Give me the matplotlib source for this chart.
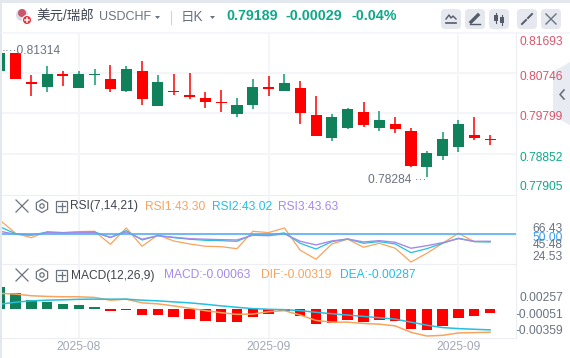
import numpy as np
import matplotlib
matplotlib.use('Agg')
import matplotlib.pyplot as plt
from matplotlib.patches import FancyBboxPatch, Rectangle, RegularPolygon, Polygon, Circle

plt.rcParams['font.family'] = ['Liberation Sans', 'Noto Sans CJK SC', 'DejaVu Sans']

# daily candles, first one is cut off by the left edge
opens = [.80869, .81314, .80602, .80480, .80796, .80456, .80772, .80675, .80383, .80869, .80018,
         .80383, .80286, .80213, .80115, .79824, .80042, .80480, .80383, .80456, .79799, .79240,
         .79483, .79872, .79483, .79580, .79410, .78535, .78802, .79021, .79313, .79216]
closes = [.81307, .80675, .80553, .80796, .80748, .80796, .80796, .80431, .80918, .80188, .80602,
          .80359, .80237, .80115, .80091, .80042, .80480, .80431, .80577, .79848, .79288, .79751,
          .79945, .79556, .79678, .79459, .78559, .78875, .79216, .79580, .79240, .79189]
highs = [.81307, .81314, .80772, .80991, .80869, .80869, .80918, .81015, .80991, .81112, .80772,
         .80796, .80821, .80359, .80407, .80213, .80675, .80748, .80796, .80626, .80261, .79824,
         .79969, .80115, .79896, .79751, .79483, .78924, .79386, .79678, .79751, .79313]
lows = [.80869, .80675, .80261, .80359, .80504, .80456, .80529, .80359, .80359, .80042, .80018,
        .80286, .80188, .79969, .79872, .79751, .79945, .80261, .80383, .79580, .79288, .79167,
        .79459, .79507, .79410, .79361, .78535, .78284, .78705, .78899, .79191, .79070]

rsi1 = [63.0, 50.9, 46.9, 52.4, 51.5, 52.4, 52.7, 40.9, 55.7, 39.1, 49.4, 43.9, 41.2, 39.1, 38.7, 36.9,
        52.7, 51.5, 55.7, 35.5, 27.3, 41.2, 45.5, 38.2, 41.8, 37.3, 24.8, 32.7, 41.8, 50.9, 43.3, 43.30]
rsi2 = [56.9, 50.5, 49.4, 51.8, 51.5, 51.8, 52.1, 46.9, 53.3, 44.8, 48.7, 46.9, 45.5, 44.5, 44.2, 43.6,
        49.6, 49.4, 51.2, 41.8, 36.6, 43.3, 45.7, 41.8, 43.3, 41.2, 33.3, 36.9, 41.8, 46.4, 43.3, 43.02]
rsi3 = [52.7, 50.0, 49.1, 51.5, 51.2, 51.5, 51.5, 47.3, 52.1, 45.5, 48.7, 47.3, 46.0, 45.5, 45.1, 44.8,
        49.1, 48.7, 50.3, 43.6, 40.3, 43.9, 45.7, 43.0, 44.2, 42.7, 37.3, 39.6, 42.4, 46.0, 43.6, 43.63]

macd = [.00288, .00206, .00123, .00096, .00069, .00055, .00027, -.00027, -.00014, -.00082, -.00082,
        -.0011, -.00137, -.00165, -.00178, -.00178, -.0011, -.00069, -.00027, -.00096, -.00206, -.00192,
        -.00151, -.00178, -.00151, -.00165, -.00274, -.00288, -.00233, -.00123, -.00096, -.00063]
dif = [.00206, .00197, .00174, .00165, .0016, .0016, .00151, .00114, .00128, .00078, .00064, .00037,
       .00005, -.00027, -.00055, -.00078, -.00073, -.00041, -.00027, -.00087, -.0016, -.00183, -.00183,
       -.00201, -.0021, -.00233, -.0032, -.0037, -.00361, -.00329, -.00324, -.00319]
dea = [.00059, .00087, .00105, .00114, .00119, .00126, .00128, .00128, .00128, .00114, .00105, .00091,
       .00078, .00059, .00037, .00018, 0, -.00009, -.00014, -.00027, -.0005, -.00069, -.00087, -.00105,
       -.00123, -.00142, -.00183, -.00224, -.00256, -.0027, -.00279, -.00287]

# the page clamps/shifts its axis labels, so tick positions sit where the labels are drawn
price_ticks = [.81599, .80755, .79782, .78785, .78080]
price_labels = ['0.81693', '0.80746', '0.79799', '0.78852', '0.77905']
rsi_ticks = [56.1, 48.2, 41.8, 30.3]
rsi_labels = ['66.43', '50.00', '45.48', '24.53']
macd_ticks = [.0016, -.00064, -.00283]
macd_labels = ['0.00257', '-0.00051', '-0.00359']
date_ticks = [5, 17, 29]
date_labels = ['2025-08', '2025-09', '2025-09']

RED = '#ff0000'
GREEN = '#10815a'
WICK_GREEN = '#0f9a72'
UP_TXT = '#10a88a'
DOWN_TXT = '#d9566c'
GRAY = '#6b7280'
GRID = '#f4f5f9'
ORANGE = '#f7a45e'
CYAN = '#25bfdf'
PURPLE = '#a68ae6'

W, H = 570, 358
fig = plt.figure(figsize=(W / 100, H / 100), dpi=100, facecolor='#e3e8ef')


def px(v):
    return v * 0.72


def page_layer(z):
    a = fig.add_axes([0, 0, 1, 1], zorder=z)
    a.set_xlim(0, W)
    a.set_ylim(H, 0)
    a.axis('off')
    return a


# card and collapse tab sit under the panels, header and icons above them
card = page_layer(0)
card.add_patch(Rectangle((2, 3), W, H, fc='white', ec='none'))
card.plot([2, W], [33, 33], color=GRID, lw=1.2)
card.add_patch(Polygon([[553, 72], [570, 62], [570, 125], [553, 116]], fc='#e9ebf2', ec='none'))
card.plot([564, 560, 564], [90, 94.5, 99], color=GRAY, lw=1.2)

bg = page_layer(5)


def txt(x, y, s, color, size=13, weight='normal', ha='left'):
    bg.text(x, y, s, color=color, fontsize=px(size), fontweight=weight, ha=ha, va='center')


# flag
bg.add_patch(Circle((22, 15), 6, fc='#d9dce6', ec='none'))
bg.add_patch(Circle((22, 13), 4, fc='#c9566a', ec='none'))
bg.add_patch(Circle((27, 20), 4.6, fc='#e8303a', ec='white', lw=0.8))
bg.plot([24.8, 29.2], [20, 20], color='white', lw=1.1)
bg.plot([27, 27], [17.8, 22.2], color='white', lw=1.1)

txt(36, 16.5, '美元/瑞郎', '#3f4450', 13.5)
txt(99, 17.5, 'USDCHF', GRAY, 12.5)
bg.add_patch(Polygon([[155, 16], [160, 16], [157.5, 19]], fc=GRAY, ec='none'))
bg.plot([171, 171], [11, 24], color='#cfd3dc', lw=0.8)
txt(181, 16.5, '日K', GRAY, 13.5)
bg.add_patch(Polygon([[210, 16], [215, 16], [212.5, 19]], fc=GRAY, ec='none'))
txt(226, 16.5, '0.79189', UP_TXT, 14.2, 'bold')
txt(286, 16.5, '-0.00029', UP_TXT, 14.2, 'bold')
txt(352, 16.5, '-0.04%', UP_TXT, 14.2, 'bold')

# toolbar buttons
for bx in [441, 465, 489, 517, 541]:
    bg.add_patch(FancyBboxPatch((bx + 2, 11), 16, 16, boxstyle='round,pad=2,rounding_size=4',
                                fc='#e6e8f0', ec='none'))
ICON = '#555b68'
bg.plot([446, 449, 451, 453, 456], [19, 15, 18, 16, 19], color=ICON, lw=1)
bg.plot([446, 456], [23, 23], color=ICON, lw=1.2)
bg.plot([471, 478], [22, 15], color=ICON, lw=2.4)
bg.plot([470, 480], [24, 24], color=ICON, lw=1)
bg.add_patch(Rectangle((494, 15), 3.5, 6, fc=ICON, ec='none'))
bg.add_patch(Rectangle((500, 17), 3.5, 6, fc=ICON, ec='none'))
bg.plot([495.7, 495.7], [13, 23], color=ICON, lw=0.8)
bg.plot([501.7, 501.7], [15, 25], color=ICON, lw=0.8)
bg.plot([522, 526], [24, 20], color=ICON, lw=1.4)
bg.plot([528, 532], [18, 14], color=ICON, lw=1.4)
bg.plot([546, 556], [14, 24], color=GRAY, lw=1)
bg.plot([546, 556], [24, 14], color=GRAY, lw=1)


def panel_icons(y):
    bg.plot([16, 28], [y - 6, y + 6], color=GRAY, lw=0.9)
    bg.plot([16, 28], [y + 6, y - 6], color=GRAY, lw=0.9)
    bg.add_patch(RegularPolygon((42, y), 6, radius=6.5, fc='none', ec=GRAY, lw=0.9))
    bg.add_patch(Circle((42, y), 2.2, fc='none', ec=GRAY, lw=0.9))
    bg.add_patch(Rectangle((56, y - 5.5), 11, 11, fc='none', ec=GRAY, lw=0.9))
    bg.plot([58, 65], [y, y], color=GRAY, lw=0.9)
    bg.plot([61.5, 61.5], [y - 3.5, y + 3.5], color=GRAY, lw=0.9)


panel_icons(206)
txt(70, 206.5, 'RSI(7,14,21)', '#3f4450', 12)
txt(145, 206.5, 'RSI1:43.30', ORANGE, 12)
txt(212, 206.5, 'RSI2:43.02', CYAN, 12)
txt(278, 206.5, 'RSI3:43.63', PURPLE, 12)

panel_icons(275)
txt(71, 275.5, 'MACD(12,26,9)', '#3f4450', 12)
txt(164, 275.5, 'MACD:-0.00063', PURPLE, 12)
txt(261, 275.5, 'DIF:-0.00319', ORANGE, 12)
txt(340, 275.5, 'DEA:-0.00287', CYAN, 12)

low_idx = int(np.argmin(lows))
high_idx = int(np.argmax(highs))


def add_panel(top, bottom):
    ax = fig.add_axes([2 / W, 1 - bottom / H, (515.7 - 2) / W, (bottom - top) / H], zorder=1)
    ax.patch.set_alpha(0)
    ax.set_xlim(0.147, 32.62)
    for s in ax.spines.values():
        s.set_visible(False)
    ax.spines['right'].set_visible(True)
    ax.spines['right'].set_color('#eceef3')
    ax.spines['bottom'].set_visible(True)
    ax.spines['bottom'].set_color('#eceef3')
    ax.set_xticks(date_ticks)
    ax.grid(axis='x', color=GRID, lw=1.4)
    ax.set_axisbelow(True)
    ax.tick_params(axis='both', length=0, labelbottom=False)
    ax.yaxis.tick_right()
    ax.tick_params(axis='y', pad=34)
    return ax


def set_labels(ax, ticks, labels, colors):
    ax.set_yticks(ticks, labels)
    for lab, c in zip(ax.get_yticklabels(), colors):
        lab.set_ha('right')
        lab.set_color(c)
        lab.set_fontsize(px(12))


x = np.arange(len(opens))

# price panel
ax = add_panel(33, 194.5)
ax.set_ylim(.77866, .81793)
for g in [.80821, .79836, .78851]:
    ax.axhline(g, color=GRID, lw=1.4, zorder=0)
for i in x:
    up = closes[i] >= opens[i]
    body = GREEN if up else RED
    ax.vlines(i, lows[i], highs[i], color=WICK_GREEN if up else RED, lw=1.1, zorder=2)
    ax.bar(i, abs(closes[i] - opens[i]), bottom=min(opens[i], closes[i]), width=0.7, color=body, zorder=3)
set_labels(ax, price_ticks, price_labels, [DOWN_TXT, DOWN_TXT, DOWN_TXT, UP_TXT, UP_TXT])
ax.annotate('····' + f'{highs[high_idx]:.5f}', (x[high_idx], highs[high_idx]), xytext=(-9.7, 1),
            textcoords='offset points', color=GRAY, fontsize=px(12), va='center', ha='left',
            annotation_clip=False, zorder=5)
ax.annotate(f'{lows[low_idx]:.5f}' + ' ···', (x[low_idx], lows[low_idx]), xytext=(0, -2),
            textcoords='offset points', color=GRAY, fontsize=px(12), va='center', ha='right')

# RSI panel
ax2 = add_panel(194.5, 264)
ax2.set_ylim(22.99, 86.1)
ax2.plot(x, rsi1, color=ORANGE, lw=0.9)
ax2.plot(x, rsi2, color=CYAN, lw=0.9)
ax2.plot(x, rsi3, color=PURPLE, lw=1.0)
ax2.axhline(50, color='#55aef0', lw=1.2)
set_labels(ax2, rsi_ticks, rsi_labels, [GRAY, '#3d9df0', GRAY, GRAY])

# MACD panel
ax3 = add_panel(264, 338)
ax3.set_ylim(-.00397, .00603)
ax3.bar(x, macd, width=0.66, color=[GREEN if m > 0 else RED for m in macd], zorder=2)
ax3.plot(x, dif, color=ORANGE, lw=1.1, zorder=3)
ax3.plot(x, dea, color=CYAN, lw=1.1, zorder=3)
set_labels(ax3, macd_ticks, macd_labels, [GRAY, GRAY, GRAY])
ax3.set_xticks(date_ticks, date_labels)
ax3.tick_params(axis='x', labelbottom=True, pad=2, labelcolor='#a3a8b8', labelsize=px(12))

fig.savefig('out.png', dpi=100, facecolor=fig.get_facecolor())
